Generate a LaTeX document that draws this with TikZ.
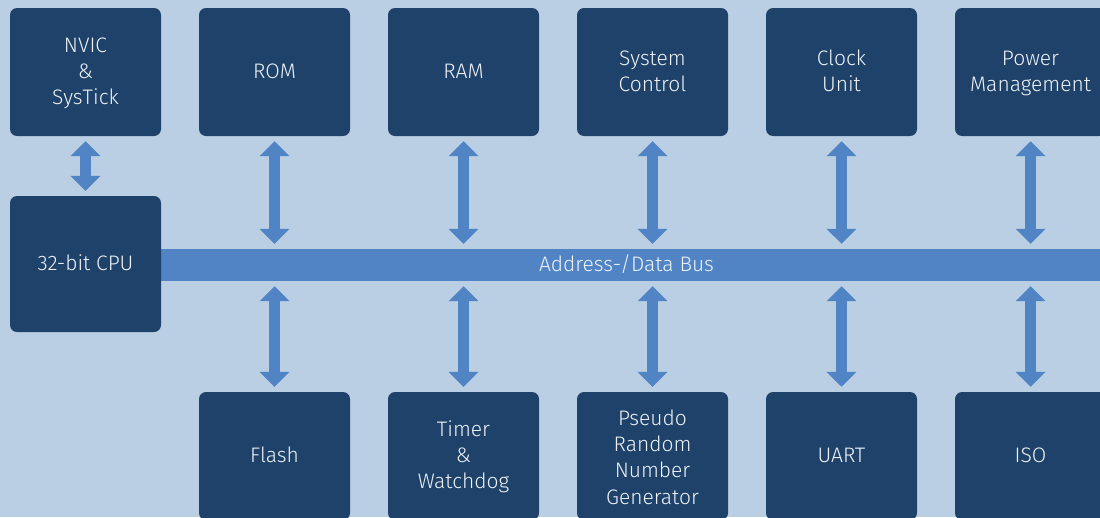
\documentclass[tikz,border=0pt]{standalone}
\usepackage{fontspec}
\setmainfont{Fira Sans}[UprightFont={* Light}]
\usetikzlibrary{arrows.meta}
\definecolor{bgc}{HTML}{BACFE3}
\definecolor{boxc}{HTML}{1E4269}
\definecolor{busc}{HTML}{5084C4}
\definecolor{txtc}{HTML}{EEF2F7}
\newcommand\ls{\rule[-6.8pt]{0pt}{26.2pt}}
\newcommand\lsT{\rule[-6.8pt]{0pt}{31.2pt}}
\tikzset{
  labelfont/.style={font=\fontsize{21}{26.2}\selectfont},
  blockbox/.style={fill=boxc, rounded corners=7pt, minimum width=151pt, minimum height=128pt,
    inner sep=0pt, text=txtc, align=center, labelfont},
  cpubox/.style={blockbox, minimum height=136pt},
  busbar/.style={fill=busc, minimum width=939pt, minimum height=32pt, inner sep=0pt},
  bustext/.style={text=txtc, inner sep=0pt, labelfont},
  busarrow/.style={draw=busc, line width=11pt,
    {Triangle[width=29pt,length=15pt]}-{Triangle[width=29pt,length=15pt]},
    shorten <=5pt, shorten >=5pt}
}
\begin{document}
\begin{tikzpicture}[x=1pt,y=-1pt]
\useasboundingbox (0,0) rectangle (1100,517);
\fill[bgc] (0,0) rectangle (1100,517);
% bus
\node[busbar] (bus) at (630.5,265) {};
\node[bustext] (buslabel) at ([xshift=-4pt]bus.center) {\ls Address-/Data Bus};
% left column
\node[blockbox] (nvic) at (85.5,72) {\ls NVIC\\\ls\&\\\ls SysTick};
\node[cpubox] (cpu) at (85.5,264) {\ls 32-bit CPU};
% top row
\node[blockbox] (rom) at (274.5,72) {\ls ROM};
\node[blockbox] (ram) at (463.5,72) {\ls RAM};
\node[blockbox] (sysc) at (652.5,72) {\ls System\\\ls Control};
\node[blockbox] (clk) at (841.5,72) {\ls Clock\\\ls Unit};
\node[blockbox] (pwr) at (1030.5,72) {\ls Power\\\ls Management};
% bottom row
\node[blockbox] (flash) at (274.5,456) {\ls Flash};
\node[blockbox] (timer) at (463.5,456) {\ls Timer\\\ls\&\\\ls Watchdog};
\node[blockbox] (prng) at (652.5,456) {\lsT Pseudo\\\ls Random\\\ls Number\\\ls Generator};
\node[blockbox] (uart) at (841.5,456) {\ls UART};
\node[blockbox] (iso) at (1030.5,456) {\ls ISO};
% arrows
\draw[busarrow] (nvic.south) -- (cpu.north);
\foreach \n in {rom,ram,sysc,clk,pwr}{
  \draw[busarrow] (\n.south) -- (\n.south |- bus.north);
}
\foreach \n in {flash,timer,prng,uart,iso}{
  \draw[busarrow] (\n.north |- bus.south) -- (\n.north);
}
\end{tikzpicture}
\end{document}
